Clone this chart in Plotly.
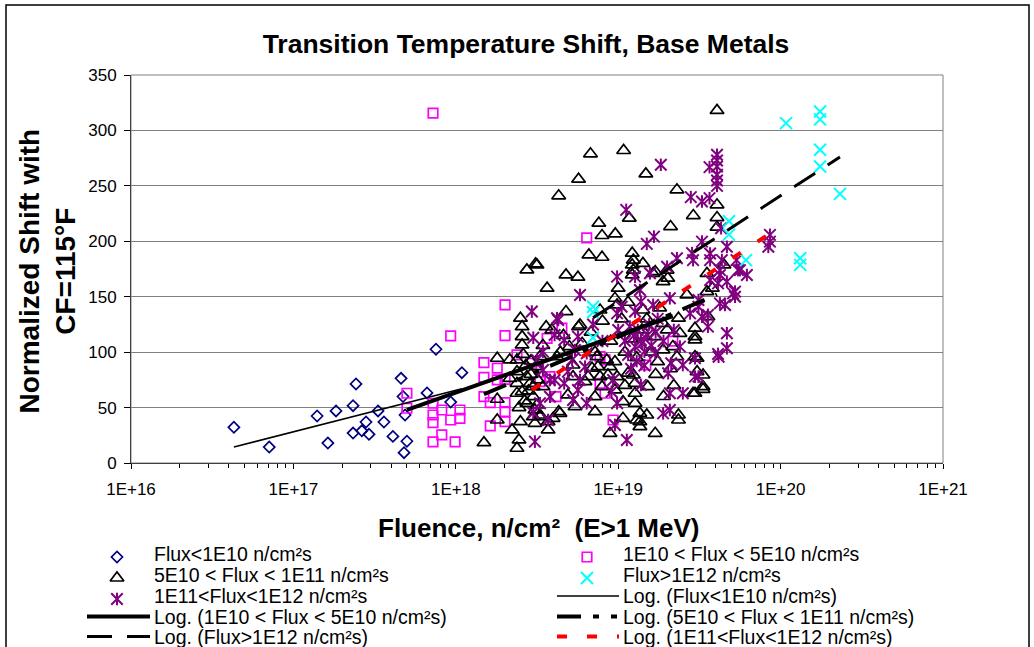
import plotly.graph_objects as go

# ---------------- data ----------------
blue_fluence = [4.3e16, 7.1e16, 1.4e17, 1.63e17, 1.83e17, 2.33e17, 2.43e17, 2.33e17, 2.64e17, 2.8e17,
                2.92e17, 3.32e17, 3.61e17, 4.1e17, 4.6e17, 4.73e17, 4.87e17, 4.8e17, 5.0e17, 7.55e17,
                6.65e17, 9.3e17, 1.09e18]
blue_shift = [32.2, 14.4, 42.4, 18.0, 47.0, 51.7, 71.3, 27.0, 29.0, 37.0,
              25.9, 47.0, 37.0, 24.0, 76.4, 60.0, 43.3, 9.3, 19.6, 102.6,
              63.2, 55.0, 81.5]

magenta_fluence = [7.24e17, 5.0e17, 5.0e17, 7.24e17, 7.24e17, 7.24e17, 8.2e17, 7.24e17, 8.2e17, 9.9e17,
                   9.3e17, 1.06e18, 1.06e18, 9.3e17, 1.49e18, 1.49e18, 1.49e18, 1.63e18, 1.63e18, 1.8e18,
                   1.8e18, 2.01e18, 2.01e18, 2.01e18, 2.01e18, 2.01e18, 2.01e18, 2.38e18, 2.94e18, 3.3e18,
                   3.8e18, 3.65e18, 4.14e18, 4.5e18, 6.4e18, 7.73e18, 7.73e18, 8.3e18, 8.3e18, 9.3e18,
                   1.48e19, 2.17e19]
magenta_shift = [315.6, 62.9, 49.4, 53.9, 43.3, 36.4, 47.8, 19.0, 25.3, 19.0,
                 38.8, 47.8, 40.3, 114.6, 90.5, 77.3, 59.8, 54.4, 33.4, 85.5,
                 74.9, 142.6, 114.9, 75.5, 54.4, 46.3, 37.3, 97.5, 90.0, 73.4,
                 77.9, 112.5, 59.8, 121.6, 203.0, 95.9, 71.9, 62.9, 93.0, 38.8,
                 88.4, 110.0]

tri_fluence = [4.06e19, 6.75e18, 1.08e19, 5.7e18, 1.48e19, 4.3e18, 2.3e19, 4.06e19, 2.9e19, 4.06e19,
               4.06e19, 1.17e19, 7.6e18, 7.95e18, 9.6e18, 2.1e19, 6.6e18, 7.95e18, 1.22e19, 1.22e19,
               1.22e19, 3.16e18, 4.77e18, 5.65e18, 3.65e18, 1.0e19, 2.02e19, 1.69e19, 2.65e19, 4.77e18,
               9.55e18, 3.6e18, 5.7e18, 2.97e19, 2.97e19, 3.06e19, 3.06e19, 2.89e19, 2.35e19, 2.35e19,
               1.69e19, 8.9e18, 1.36e19, 1.36e19, 1.07e19, 7.2e18, 5.42e18, 4.9e18, 4.3e18, 3.7e18,
               3.7e18, 3.3e18, 7.95e18, 9.55e18, 1.27e19, 1.27e19, 7.2e18, 6.52e18, 7.5e18, 8.9e18,
               8.65e18, 1.15e19, 1.27e19, 1.52e19, 2.35e19, 2.74e18, 3.1e18, 1.8e18, 1.8e18, 1.8e18,
               1.49e18, 2.38e18, 2.45e18, 2.22e18, 2.5e18, 2.5e18, 2.56e18, 2.56e18, 2.56e18, 2.38e18,
               2.38e18, 2.38e18, 2.38e18, 2.87e18, 3.0e18, 3.07e18, 2.74e18, 3.07e18, 3.33e19, 3.33e19,
               1.07e19, 1.3e19, 1.36e19, 1.5e19, 9.84e18, 8.5e18, 5.82e18, 5.27e18, 4.2e18, 2.15e18,
               2.15e18, 2.56e18, 3.16e18, 3.3e18, 3.97e18, 4.38e18, 3.0e18, 3.44e18, 3.0e18, 2.74e18,
               3.16e18, 5.27e18, 6.25e18, 6.9e18, 7.73e18, 7.4e18, 9.55e18, 1.24e19, 1.75e19, 1.89e19,
               2.0e19, 2.17e19, 2.4e19, 2.3e19, 1.69e19, 1.89e19, 1.42e19, 1.24e19, 1.24e19, 1.42e19,
               1.64e19, 2.0e19, 1.89e19, 9.84e18, 7.73e18, 3.52e19, 3.8e19, 4.48e19, 3.52e19, 3.57e19,
               2.97e19, 2.97e19, 3.33e19, 2.97e19, 2.6e18, 2.7e18, 2.9e18, 2.8e18, 3.2e18, 2.65e18,
               2.9e18, 3.3e18, 2.45e18, 1.1e19, 1.2e19, 1.4e19, 1.6e19, 1.3e19, 1.5e19, 1.8e19,
               1.05e19, 1.15e19, 1.7e19, 2.1e19, 1.9e19, 2.2e19, 1.1e19, 6.0e18, 6.8e18, 8.0e18,
               9.0e18, 7.2e18, 5.0e18, 4.6e18, 3.44e18, 3.9e18, 4.4e18]
tri_shift = [318.0, 278.9, 281.9, 256.0, 260.8, 241.0, 246.4, 232.9, 223.2, 221.4,
             212.7, 220.9, 216.3, 205.2, 206.7, 213.3, 187.7, 185.6, 189.3, 178.7,
             169.7, 178.7, 169.7, 167.6, 157.7, 157.7, 166.7, 172.7, 151.6, 136.6,
             148.6, 123.0, 123.0, 121.6, 111.0, 94.5, 82.4, 62.9, 43.3, 38.8,
             26.8, 26.8, 37.3, 44.8, 40.3, 46.3, 50.8, 61.4, 46.3, 29.8,
             37.3, 43.3, 68.9, 65.9, 62.9, 53.9, 59.8, 77.9, 86.9, 86.9,
             79.4, 81.0, 71.9, 68.9, 130.6, 174.2, 179.6, 94.5, 57.5, 38.8,
             18.3, 13.3, 20.8, 29.8, 37.3, 130.6, 123.0, 114.0, 106.5, 93.0,
             82.4, 71.9, 62.9, 71.9, 59.8, 47.8, 53.9, 35.8, 79.4, 68.9,
             55.3, 38.8, 32.8, 43.3, 77.9, 93.0, 124.5, 88.4, 95.9, 93.0,
             76.4, 64.3, 52.3, 41.8, 40.3, 44.8, 41.8, 68.9, 68.9, 77.9,
             86.9, 77.9, 73.4, 85.5, 77.9, 95.9, 91.4, 79.4, 91.4, 102.0,
             120.0, 105.0, 117.0, 95.9, 114.0, 126.0, 138.0, 183.0, 174.0, 180.0,
             171.0, 174.0, 163.6, 142.6, 138.0, 154.6, 157.7, 178.7, 171.0, 132.0,
             114.0, 95.9, 66.5, 62.9, 98.0, 88.0, 80.0, 65.0, 75.0, 56.0,
             92.0, 96.0, 50.0, 100.0, 112.0, 120.0, 100.0, 95.0, 130.0, 140.0,
             130.0, 145.0, 80.0, 85.0, 60.0, 70.0, 70.0, 108.0, 118.0, 128.0,
             110.0, 100.0, 105.0, 115.0, 106.0, 120.0, 100.0]

purple_fluence = [1.83e19, 4.06e19, 4.06e19, 4.06e19, 3.65e19, 4.06e19, 4.06e19, 4.06e19, 2.8e19, 3.28e19,
                  3.65e19, 1.12e19, 1.66e19, 1.5e19, 3.28e19, 4.67e19, 4.3e19, 8.6e19, 8.6e19, 8.4e19,
                  3.68e19, 5.62e19, 6.2e19, 4.35e19, 3.68e19, 4.23e19, 5.47e19, 3.68e19, 4.12e19, 4.67e19,
                  5.24e19, 5.24e19, 4.55e19, 4.23e19, 3.12e19, 3.12e19, 3.57e19, 3.57e19, 4.67e19, 4.67e19,
                  4.12e19, 2.97e19, 2.97e19, 2.85e19, 2.3e19, 9.84e18, 1.27e19, 1.57e19, 5.82e18, 1.36e19,
                  2.08e19, 2.0e19, 1.38e19, 1.64e19, 1.05e19, 9.84e18, 1.27e19, 4.27e18, 1.18e19, 1.32e19,
                  1.52e19, 1.38e19, 1.27e19, 1.45e19, 1.69e19, 1.15e19, 2.12e19, 5.42e18, 4.65e18, 4.06e18,
                  5.65e18, 3.44e18, 5.2e18, 6.25e18, 5.82e18, 4.65e18, 5.65e18, 6.4e18, 4.9e18, 4.06e18,
                  3.8e18, 3.07e18, 1.13e19, 9.55e18, 9.1e18, 9.3e18, 1.38e19, 1.89e19, 2.08e19, 2.08e19,
                  2.5e19, 2.03e19, 2.5e19, 3.12e19, 3.28e19, 2.94e18, 4.2e18, 4.15e19, 4.23e19, 5.09e19,
                  5.35e19, 2.77e19, 6.4e18, 3.16e18, 3.44e18, 3.8e18, 3.3e18, 3.7e18, 5.27e18, 9.84e18,
                  3.0e18, 3.0e18, 2.89e19, 1.3e19, 1.45e19, 1.4e19, 1.6e19, 1.25e19, 1.55e19, 1.1e19,
                  1.2e19, 1.7e19, 1.0e19, 8.0e18, 7.0e18, 1.75e19, 2.2e19, 2.4e19, 1.9e19]
purple_shift = [269.0, 278.0, 272.8, 267.4, 266.9, 260.0, 254.8, 250.0, 239.8, 235.9,
                238.9, 228.3, 204.2, 197.7, 199.7, 195.0, 211.8, 205.8, 199.7, 195.0,
                189.0, 174.0, 169.6, 183.0, 183.0, 169.6, 174.0, 165.0, 162.0, 163.6,
                154.6, 150.0, 142.6, 144.0, 147.0, 141.0, 133.6, 123.0, 117.0, 103.5,
                98.4, 94.5, 77.9, 189.3, 184.7, 168.1, 168.1, 171.2, 151.6, 156.0,
                148.6, 177.0, 145.6, 142.6, 141.0, 135.0, 136.6, 129.0, 123.0, 120.0,
                115.5, 111.0, 105.0, 100.5, 99.0, 97.5, 90.0, 102.0, 111.0, 115.5,
                114.0, 100.5, 93.0, 86.9, 74.9, 71.9, 65.9, 53.9, 82.4, 74.9,
                59.8, 19.3, 20.8, 34.3, 64.3, 74.9, 70.4, 44.8, 47.8, 62.9,
                62.9, 81.0, 88.4, 77.9, 132.0, 136.6, 130.6, 95.9, 174.0, 153.0,
                183.0, 135.0, 99.0, 93.0, 83.9, 74.9, 53.9, 38.8, 56.9, 53.9,
                113.0, 45.4, 183.0, 92.0, 88.0, 108.0, 106.0, 115.0, 125.0, 110.0,
                85.0, 118.0, 120.0, 110.0, 125.0, 130.0, 120.0, 105.0, 110.0]

cyan_fluence = [7.0e18, 7.0e18, 7.0e18, 4.81e19, 4.81e19, 6.12e19, 1.08e20, 1.32e20, 1.32e20,
                1.75e20, 1.75e20, 1.75e20, 1.75e20, 2.32e20]
cyan_shift = [141.0, 136.0, 113.0, 218.0, 206.0, 183.0, 306.6, 184.7, 178.7,
              317.0, 310.0, 282.5, 267.4, 242.8]

# logarithmic trend lines (end points)
trend_fluence_start = [4.3e16, 5.0e17, 1.49e18, 7.0e18, 2.94e18]
trend_fluence_end = [1.09e18, 2.17e19, 4.06e19, 2.32e20, 8.6e19]
trend_shift_start = [14.4, 48.0, 62.0, 131.0, 66.0]
trend_shift_end = [67.0, 132.6, 152.0, 276.0, 207.0]

series_labels = ["Flux<1E10 n/cm²s", "1E10 < Flux < 5E10 n/cm²s", "5E10 < Flux < 1E11 n/cm²s",
                 "Flux>1E12 n/cm²s", "1E11<Flux<1E12 n/cm²s"]
trend_labels = ["Log. (Flux<1E10 n/cm²s)", "Log. (1E10 < Flux < 5E10 n/cm²s)",
                "Log. (5E10 < Flux < 1E11 n/cm²s)", "Log. (Flux>1E12 n/cm²s)",
                "Log. (1E11<Flux<1E12 n/cm²s)"]

x_tick_values = [1e16, 1e17, 1e18, 1e19, 1e20, 1e21]
x_tick_text = ["1E+16", "1E+17", "1E+18", "1E+19", "1E+20", "1E+21"]
y_tick_values = [0, 50, 100, 150, 200, 250, 300, 350]

# ---------------- styling ----------------
W, H = 1034, 647
FONT = "Liberation Sans, Arial, sans-serif"
NAVY, MAGENTA, PURPLE, CYAN, RED = "#000080", "#FF00FF", "#800080", "#00FFFF", "#FF0000"

marker_styles = [
    [("diamond-open", 8.5, NAVY, 1.7)],
    [("square-open", 9.5, MAGENTA, 1.7)],
    [("triangle-up-open", 12, "black", 1.7)],
    [("x-thin-open", 12, CYAN, 2)],
    [("x-thin-open", 11.5, PURPLE, 2), ("line-ns-open", 9, PURPLE, 2)],
]
trend_styles = [
    ("black", 1.5, "solid"),
    ("black", 4, "solid"),
    ("black", 4, "24px,12px,6px,12px,6px,12px"),
    ("black", 3, "25px,15px"),
    (RED, 4, "10px,20px"),
]

fig = go.Figure()


def add_markers(xs, ys, styles, xa="x", ya="y"):
    for sym, size, color, width in styles:
        fig.add_trace(go.Scatter(
            x=xs, y=ys, mode="markers", xaxis=xa, yaxis=ya, showlegend=False, hoverinfo="skip",
            marker=dict(symbol=sym, size=size, color=color, line=dict(color=color, width=width))))


series_data = [(blue_fluence, blue_shift), (magenta_fluence, magenta_shift),
               (tri_fluence, tri_shift), (cyan_fluence, cyan_shift),
               (purple_fluence, purple_shift)]
# draw order: blue, magenta, triangles, purple, cyan
for idx in [0, 1, 2, 4, 3]:
    xs, ys = series_data[idx]
    add_markers(xs, ys, marker_styles[idx])

# trend lines
for i in range(5):
    color, width, dash = trend_styles[i]
    fig.add_trace(go.Scatter(
        x=[trend_fluence_start[i], trend_fluence_end[i]],
        y=[trend_shift_start[i], trend_shift_end[i]],
        mode="lines", showlegend=False, hoverinfo="skip",
        line=dict(color=color, width=width, dash=dash)))

# ---------------- hand-made legend (pixel axes x2/y2) ----------------
row_y = [554, 575, 596, 616.5, 636.5]
col_marker_x = [117, 587]
col_line_x = [(87, 150), (557, 619)]
col_text_x = [152, 621]
legend_entries = [("m", 0), ("m", 1), ("m", 2), ("m", 3), ("m", 4),
                  ("t", 0), ("t", 1), ("t", 2), ("t", 3), ("t", 4)]
annotations = []
for k, (kind, idx) in enumerate(legend_entries):
    r, c = divmod(k, 2)
    y = row_y[r]
    if kind == "m":
        add_markers([col_marker_x[c]], [y + 3], marker_styles[idx], xa="x2", ya="y2")
        label = series_labels[idx]
    else:
        color, width, dash = trend_styles[idx]
        x0, x1 = col_line_x[c]
        fig.add_trace(go.Scatter(x=[x0, x1], y=[y, y], xaxis="x2", yaxis="y2", mode="lines",
                                 showlegend=False, hoverinfo="skip",
                                 line=dict(color=color, width=width, dash=dash)))
        label = trend_labels[idx]
    annotations.append(dict(x=col_text_x[c], y=y, xref="x2", yref="y2", text=label,
                            showarrow=False, xanchor="left", yanchor="middle",
                            font=dict(family=FONT, size=19.5, color="black")))

# axis titles
annotations.append(dict(x=538, y=528, xref="x2", yref="y2", text="Fluence, n/cm²  (E>1 MeV)",
                        showarrow=False, xanchor="center", yanchor="middle",
                        font=dict(family=FONT, size=26, color="black", weight="bold")))
annotations.append(dict(x=46.5, y=271, xref="x2", yref="y2", text="Normalized Shift with<br>CF=115°F",
                        textangle=-90, showarrow=False, xanchor="center", yanchor="middle",
                        font=dict(family=FONT, size=28, color="black", weight="bold")))

minor_vals = [k * 10.0 ** e for e in range(16, 21) for k in range(2, 10)]

fig.update_layout(
    template="none",
    width=W, height=H, margin=dict(l=0, r=0, t=0, b=0, autoexpand=False),
    paper_bgcolor="white", plot_bgcolor="rgba(0,0,0,0)",
    font=dict(family=FONT, color="black"),
    title=dict(text="Transition Temperature Shift, Base Metals", x=526 / W, y=1 - 44 / H,
               xanchor="center", yanchor="middle", xref="paper", yref="paper",
               font=dict(family=FONT, size=26.5, color="black", weight="bold")),
    xaxis=dict(type="log", domain=[131 / W, 943 / W], range=[16, 21], anchor="y", automargin=False,
               tickmode="array", tickvals=x_tick_values, ticktext=x_tick_text,
               ticks="outside", ticklen=5, tickcolor="black", tickwidth=1, ticklabelstandoff=6,
               showline=True, linecolor="black", linewidth=1, showgrid=False, zeroline=False,
               tickfont=dict(family=FONT, size=17, color="black"),
               minor=dict(tickmode="array", tickvals=minor_vals, ticks="outside", ticklen=4,
                          tickcolor="black", tickwidth=1, showgrid=False)),
    yaxis=dict(domain=[1 - 463 / H, 1 - 75 / H], range=[0, 350], anchor="x", automargin=False,
               tickmode="array", tickvals=y_tick_values,
               ticks="outside", ticklen=6, tickcolor="black", tickwidth=1, ticklabelstandoff=4,
               showline=True, linecolor="black", linewidth=1,
               showgrid=True, gridcolor="#808080", gridwidth=1, zeroline=False,
               tickfont=dict(family=FONT, size=17, color="black")),
    xaxis2=dict(domain=[0, 1], range=[0, W], visible=False, anchor="y2", fixedrange=True,
                automargin=False),
    yaxis2=dict(domain=[0, 1], range=[H, 0], visible=False, anchor="x2", fixedrange=True,
                automargin=False),
    annotations=annotations,
    shapes=[
        dict(type="rect", xref="x2", yref="y2", x0=131, y0=75, x1=943, y1=463,
             line=dict(color="#808080", width=1), layer="below"),
        dict(type="rect", xref="x2", yref="y2", x0=6, y0=5, x1=1029, y1=700,
             line=dict(color="black", width=1.5)),
    ],
)

fig.write_html("out.html")
